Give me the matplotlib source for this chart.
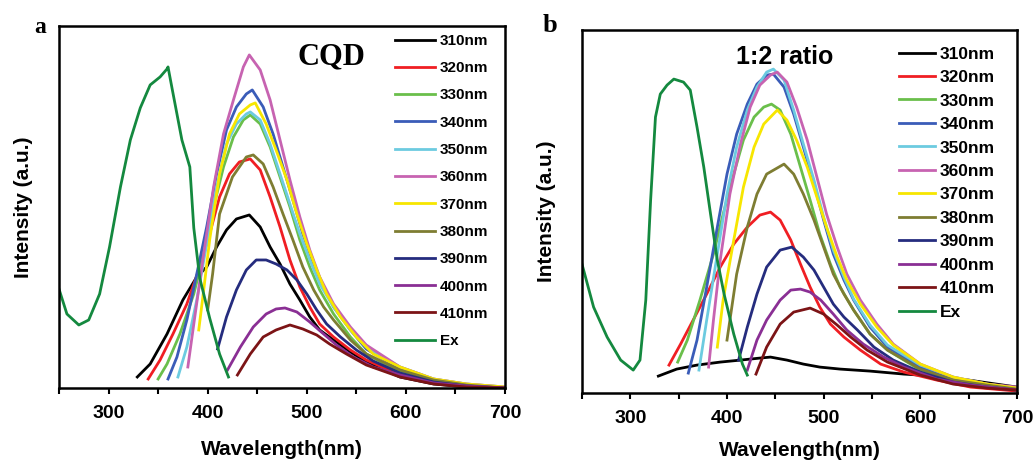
#!/usr/bin/env python3
"""PL emission spectra at different excitation wavelengths: CQD vs 1:2 ratio."""

import matplotlib
matplotlib.use("Agg")
import matplotlib.pyplot as plt
from matplotlib.ticker import MultipleLocator

plt.rcParams.update({
    "font.family": "sans-serif",
    "font.sans-serif": ["Liberation Sans", "Arial", "DejaVu Sans"],
    "font.weight": "bold",
})

LABELS = ["310nm", "320nm", "330nm", "340nm", "350nm", "360nm",
          "370nm", "380nm", "390nm", "400nm", "410nm", "Ex"]
COLORS = ["#000000", "#f01e23", "#6abf4b", "#3a5cb8", "#6ccbe0", "#c763b1",
          "#f7e600", "#7e7d32", "#252c7e", "#8a2f94", "#7c1416", "#14893f"]

# ---- panel a (CQD): (wavelength nm, intensity a.u.) ----
a_310 = [(329, 11), (342, 24), (359, 54), (375, 88), (389, 111), (399, 121), (409, 141),
         (419, 158), (429, 169), (442, 173), (453, 161), (463, 141), (473, 124), (483, 104),
         (493, 88), (503, 71), (513, 58), (527, 48), (544, 36), (560, 26), (594, 11),
         (628, 4), (661, 1), (700, 0)]
a_320 = [(340, 9), (352, 28), (365, 54), (379, 84), (392, 121), (402, 154), (412, 191),
         (422, 214), (432, 226), (443, 229), (453, 218), (463, 191), (473, 161), (483, 128),
         (493, 101), (503, 81), (513, 64), (527, 51), (544, 38), (560, 28), (594, 13),
         (628, 5), (661, 2), (700, 0)]
a_330 = [(350, 9), (359, 24), (372, 54), (386, 94), (396, 134), (406, 181), (416, 221),
         (426, 251), (436, 268), (443, 273), (453, 264), (463, 241), (473, 211), (483, 181),
         (493, 148), (503, 121), (513, 98), (527, 74), (544, 51), (560, 34), (594, 16),
         (628, 8), (661, 3), (700, 0)]
a_340 = [(360, 9), (369, 31), (379, 68), (389, 114), (399, 161), (409, 214), (419, 258),
         (429, 281), (439, 294), (445, 298), (456, 281), (466, 254), (476, 221), (486, 188),
         (496, 154), (507, 124), (517, 101), (527, 81), (544, 58), (560, 39), (594, 19),
         (628, 8), (661, 3), (700, 0)]
a_350 = [(370, 11), (379, 41), (389, 88), (399, 144), (409, 201), (419, 244), (429, 264),
         (439, 274), (443, 276), (453, 268), (463, 244), (473, 214), (483, 184), (493, 154),
         (503, 128), (513, 104), (527, 81), (544, 58), (560, 41), (594, 21), (628, 9),
         (661, 4), (700, 1)]
a_360 = [(380, 21), (387, 71), (396, 134), (406, 201), (416, 254), (426, 288), (436, 321),
         (442, 333), (453, 318), (463, 288), (473, 248), (483, 208), (493, 171), (503, 138),
         (513, 111), (527, 84), (544, 61), (560, 43), (594, 21), (628, 9), (661, 4), (700, 1)]
a_370 = [(391, 58), (396, 98), (402, 148), (412, 214), (422, 254), (432, 274), (443, 283),
         (448, 285), (459, 264), (469, 238), (480, 208), (490, 174), (500, 144), (510, 118),
         (520, 94), (534, 71), (550, 51), (567, 34), (594, 21), (628, 9), (661, 4), (700, 1)]
a_380 = [(400, 78), (405, 114), (412, 174), (425, 211), (439, 231), (446, 233), (456, 224),
         (466, 201), (476, 174), (486, 148), (496, 121), (507, 98), (517, 81), (527, 68),
         (544, 48), (560, 34), (594, 18), (628, 8), (661, 3), (700, 0)]
a_390 = [(410, 39), (419, 71), (429, 98), (439, 118), (449, 128), (459, 128), (469, 124),
         (480, 118), (490, 108), (500, 94), (510, 78), (520, 64), (534, 51), (550, 38),
         (567, 27), (594, 15), (628, 6), (661, 2), (700, 0)]
a_400 = [(420, 18), (433, 41), (446, 61), (459, 74), (469, 79), (478, 80), (490, 76),
         (503, 66), (517, 54), (530, 43), (547, 31), (567, 21), (594, 13), (628, 5),
         (661, 2), (700, 0)]
a_410 = [(430, 13), (443, 34), (456, 51), (469, 58), (483, 63), (496, 59), (510, 53),
         (523, 44), (540, 34), (560, 23), (594, 11), (628, 4), (661, 1), (700, 0)]
a_ex = [(250, 99), (258, 74), (270, 63), (280, 68), (291, 94), (301, 141), (312, 201),
        (322, 248), (332, 280), (342, 303), (352, 311), (359, 319), (360, 321), (364, 300),
        (374, 248), (382, 221), (386, 160), (392, 110), (402, 70), (412, 34), (421, 11)]

# ---- panel b (1:2 ratio) ----
b_310 = [(329, 17), (348, 24), (369, 28), (393, 31), (414, 33), (434, 35), (445, 36),
         (462, 33), (479, 29), (496, 26), (517, 24), (548, 22), (583, 19), (600, 18),
         (650, 13), (700, 6)]
b_320 = [(340, 28), (352, 49), (365, 73), (379, 99), (393, 126), (407, 149), (421, 166),
         (434, 178), (445, 181), (455, 173), (466, 153), (476, 129), (486, 106), (496, 86),
         (507, 69), (521, 56), (538, 43), (559, 29), (583, 21), (617, 13), (652, 6), (700, 2)]
b_330 = [(349, 31), (359, 53), (372, 93), (386, 139), (396, 179), (407, 219), (417, 253),
         (428, 276), (438, 286), (446, 289), (455, 283), (466, 259), (476, 226), (486, 193),
         (496, 159), (507, 129), (517, 106), (531, 83), (548, 59), (566, 43), (600, 23),
         (634, 13), (669, 7), (700, 3)]
b_340 = [(360, 20), (369, 53), (379, 106), (390, 166), (400, 219), (410, 259), (421, 289),
         (431, 309), (441, 318), (448, 319), (459, 306), (469, 279), (479, 246), (490, 209),
         (500, 173), (510, 139), (521, 113), (531, 93), (548, 66), (566, 46), (600, 26),
         (634, 14), (669, 8), (700, 4)]
b_350 = [(371, 23), (379, 73), (390, 139), (400, 199), (410, 246), (421, 283), (431, 306),
         (441, 321), (448, 324), (459, 313), (469, 283), (479, 249), (490, 213), (500, 176),
         (510, 143), (521, 116), (531, 94), (548, 68), (566, 48), (600, 28), (634, 16),
         (669, 9), (700, 5)]
b_360 = [(381, 26), (386, 73), (393, 133), (403, 199), (414, 249), (424, 286), (434, 308),
         (445, 318), (452, 321), (462, 311), (472, 286), (483, 253), (493, 216), (503, 179),
         (514, 146), (524, 119), (538, 93), (555, 69), (572, 49), (600, 29), (634, 16),
         (669, 9), (700, 6)]
b_370 = [(390, 46), (396, 93), (407, 153), (417, 206), (428, 246), (438, 269), (452, 283),
         (462, 273), (472, 253), (483, 226), (493, 196), (503, 166), (514, 136), (524, 113),
         (538, 89), (555, 66), (572, 48), (600, 29), (634, 16), (669, 9), (700, 5)]
b_380 = [(400, 53), (410, 119), (421, 166), (431, 199), (441, 219), (459, 229), (469, 219),
         (479, 199), (490, 173), (500, 146), (510, 119), (521, 99), (531, 83), (548, 59),
         (566, 43), (600, 24), (634, 13), (669, 8), (700, 4)]
b_390 = [(412, 33), (421, 66), (431, 99), (441, 126), (455, 143), (467, 146), (479, 136),
         (490, 123), (500, 106), (510, 89), (521, 76), (535, 63), (552, 46), (572, 33),
         (600, 21), (634, 11), (669, 6), (700, 3)]
b_400 = [(421, 23), (431, 53), (441, 73), (455, 93), (466, 103), (476, 104), (486, 101),
         (497, 93), (510, 79), (524, 63), (541, 49), (562, 36), (583, 26), (617, 14),
         (652, 8), (700, 3)]
b_410 = [(430, 19), (441, 46), (455, 69), (469, 81), (486, 85), (500, 79), (514, 68),
         (528, 56), (545, 43), (566, 31), (600, 18), (634, 9), (669, 5), (700, 3)]
b_ex = [(250, 129), (262, 86), (276, 56), (290, 33), (303, 23), (310, 33), (316, 93),
        (321, 193), (326, 276), (331, 299), (338, 308), (345, 314), (355, 311), (362, 303),
        (369, 266), (376, 226), (383, 179), (390, 133), (397, 99), (407, 59), (416, 29),
        (421, 18)]

PANEL_A = [a_310, a_320, a_330, a_340, a_350, a_360, a_370, a_380, a_390, a_400, a_410, a_ex]
PANEL_B = [b_310, b_320, b_330, b_340, b_350, b_360, b_370, b_380, b_390, b_400, b_410, b_ex]


def draw_panel(ax, curves, ytop, xlabelpad):
    for pts, c, lab in zip(curves, COLORS, LABELS):
        wl, it = zip(*pts)
        ax.plot(wl, it, color=c, lw=2.0, label=lab, solid_joinstyle="round")
    ax.set_xlim(250, 700)
    ax.set_ylim(0, ytop)
    ax.xaxis.set_major_locator(MultipleLocator(100))
    ax.xaxis.set_minor_locator(MultipleLocator(50))
    ax.set_yticks([])
    ax.tick_params(axis="x", which="both", direction="out", length=4, width=1.5,
                   labelsize=14, pad=8)
    for s in ax.spines.values():
        s.set_linewidth(1.8)
    for t in ax.get_xticklabels():
        t.set_fontweight("bold")
    ax.set_xlabel("Wavelength(nm)", fontsize=15, fontweight="bold", labelpad=xlabelpad)
    ax.set_ylabel("Intensity (a.u.)", fontsize=15, fontweight="bold", labelpad=19)


fig = plt.figure(figsize=(10.33, 4.63), dpi=100)
ax_a = fig.add_axes([0.0571, 0.162, 0.4318, 0.782])
ax_b = fig.add_axes([0.5634, 0.151, 0.4211, 0.784])

draw_panel(ax_a, PANEL_A, 362, 13)
draw_panel(ax_b, PANEL_B, 363, 10)

ax_a.legend(loc="upper left", bbox_to_anchor=(0.753, 0.978), frameon=False,
            prop={"size": 11, "weight": "bold"}, handlelength=2.6, handletextpad=0.35,
            labelspacing=0.87, borderpad=0, borderaxespad=0)
ax_b.legend(loc="upper left", bbox_to_anchor=(0.728, 0.955), frameon=False,
            prop={"size": 12.5, "weight": "bold"}, handlelength=2.1, handletextpad=0.25,
            labelspacing=0.48, borderpad=0, borderaxespad=0)

ax_a.text(0.61, 0.915, "CQD", transform=ax_a.transAxes, ha="center", va="center",
          fontsize=22, fontweight="bold", family="Liberation Serif")
ax_b.text(0.465, 0.925, "1:2 ratio", transform=ax_b.transAxes, ha="center", va="center",
          fontsize=18, fontweight="bold")

fig.text(0.039, 0.94, "a", fontsize=17, fontweight="bold", family="Liberation Serif",
         ha="center", va="center")
fig.text(0.532, 0.945, "b", fontsize=19, fontweight="bold", family="Liberation Serif",
         ha="center", va="center")

fig.savefig("out.png", dpi=100)
